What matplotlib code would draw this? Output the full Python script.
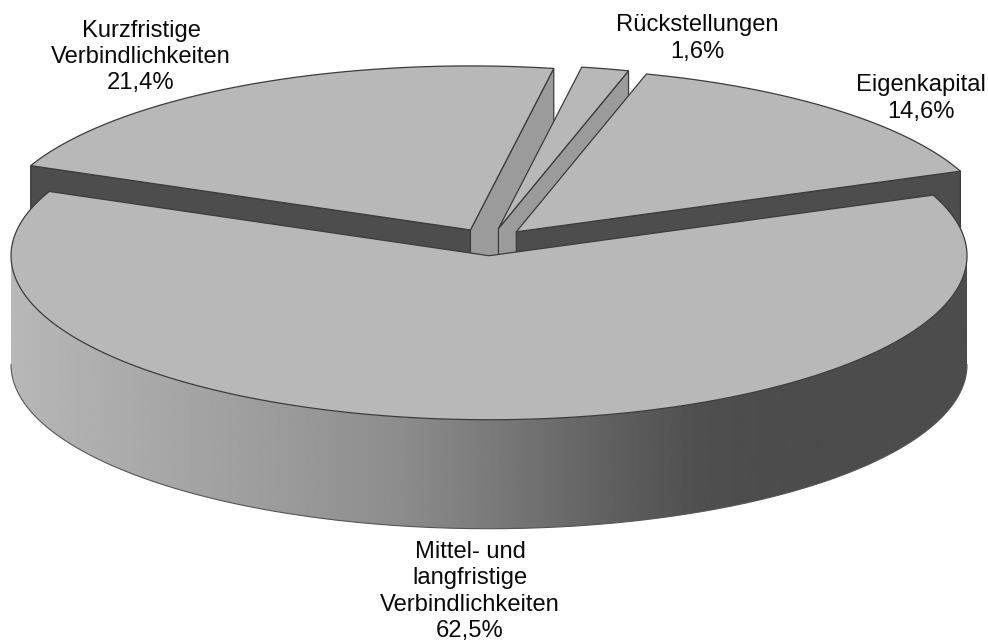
#!/usr/bin/python3

import numpy as np
import matplotlib
matplotlib.use('Agg')
import matplotlib.pyplot as plt
from matplotlib.patches import Polygon

# shares as printed in the chart, order is counter clockwise starting at Eigenkapital
names = ['Eigenkapital', 'Rückstellungen', 'Kurzfristige\nVerbindlichkeiten',
         'Mittel- und\nlangfristige\nVerbindlichkeiten']
shares = [14.6, 1.6, 21.4, 62.5]

# gray of the outer wall of the big slice, left to right
wall_x = [11, 100, 200, 300, 400, 490, 560, 630, 700, 760, 968]
wall_gray = [0.72, 0.68, 0.64, 0.60, 0.55, 0.48, 0.42, 0.36, 0.31, 0.30, 0.30]

# the pie in picture pixels
cx, cy = 489.5, 242.0
rx, ry = 478.0, 164.0
depth = 109.0
explode = 40.0
start_angle = 21.7

top_color = '#b8b8b8'
side_color = '#9b9b9b'
dark_color = '#4d4d4d'
line_color = '#3c3c3c'
lw = 0.9

fig = plt.figure(figsize=(9.88, 6.42), dpi=100)
ax = fig.add_axes([0, 0, 1, 1])
ax.set_xlim(0, 988)
ax.set_ylim(642, 0)
ax.axis('off')

sweep = 360.0 * np.array(shares) / np.sum(shares)
ends = start_angle + np.cumsum(sweep)
starts = ends - sweep


def point(ox, oy, deg):
    return ox + rx * np.cos(np.radians(deg)), oy - ry * np.sin(np.radians(deg))


def origin(a0, a1):
    mid = np.radians((a0 + a1) / 2)
    return cx + explode * np.cos(mid), cy - explode * ry / rx * np.sin(mid)


def top_outline(ox, oy, a0, a1):
    t = np.linspace(a0, a1, 200)
    x, y = point(ox, oy, t)
    return np.vstack([[ox, oy], np.column_stack([x, y])])


def side_face(ox, oy, deg, color):
    x, y = point(ox, oy, deg)
    pts = [[ox, oy], [x, y], [x, y + depth], [ox, oy + depth]]
    ax.add_patch(Polygon(pts, closed=True, fc=color, ec=line_color, lw=lw))


# back slices first: Kurzfristige, Rueckstellungen, Eigenkapital
ox, oy = origin(starts[2], ends[2])
side_face(ox, oy, ends[2], dark_color)
side_face(ox, oy, starts[2], side_color)
ax.add_patch(Polygon(top_outline(ox, oy, starts[2], ends[2]), closed=True, fc=top_color, ec=line_color, lw=lw))

ox, oy = origin(starts[1], ends[1])
side_face(ox, oy, starts[1], side_color)
ax.add_patch(Polygon(top_outline(ox, oy, starts[1], ends[1]), closed=True, fc=top_color, ec=line_color, lw=lw))

ox, oy = origin(starts[0], ends[0])
side_face(ox, oy, starts[0], dark_color)
ax.add_patch(Polygon(top_outline(ox, oy, starts[0], ends[0]), closed=True, fc=top_color, ec=line_color, lw=lw))

# big slice, only the front half of the outer wall shows, it gets the gradient
ox, oy = origin(starts[3], ends[3])
t = np.linspace(180, 360, 400)
ax_x, ax_y = point(ox, oy, t)
wall_pts = np.vstack([np.column_stack([ax_x, ax_y]), np.column_stack([ax_x, ax_y + depth])[::-1]])
wall = Polygon(wall_pts, closed=True, fc='none', ec='none', transform=ax.transData)
ax.add_patch(wall)
xs = np.arange(0, 988)
strip = np.interp(xs, wall_x, wall_gray).reshape(1, -1)
img = ax.imshow(strip, cmap='gray', vmin=0, vmax=1, extent=[0, 988, 642, 0], aspect='auto', interpolation='bilinear')
img.set_clip_path(wall)
ax.plot(ax_x, ax_y + depth, color='#555555', lw=0.8)
ax.add_patch(Polygon(top_outline(ox, oy, starts[3], ends[3]), closed=True, fc=top_color, ec=line_color, lw=lw))

ax.set_xlim(0, 988)
ax.set_ylim(642, 0)

# labels
label_pos = [(921, 98.5), (697, 38.5), (141, 57), (470, 591.5)]
for name, share, (lx, ly) in zip(names, shares, label_pos):
    label = name + '\n' + ('%.1f%%' % share).replace('.', ',')
    ax.text(lx, ly, label, ha='center', va='center', fontsize=17.1, family='Liberation Sans',
            color='#0a0a0a', linespacing=1.26)

fig.savefig('out.png', dpi=100)
